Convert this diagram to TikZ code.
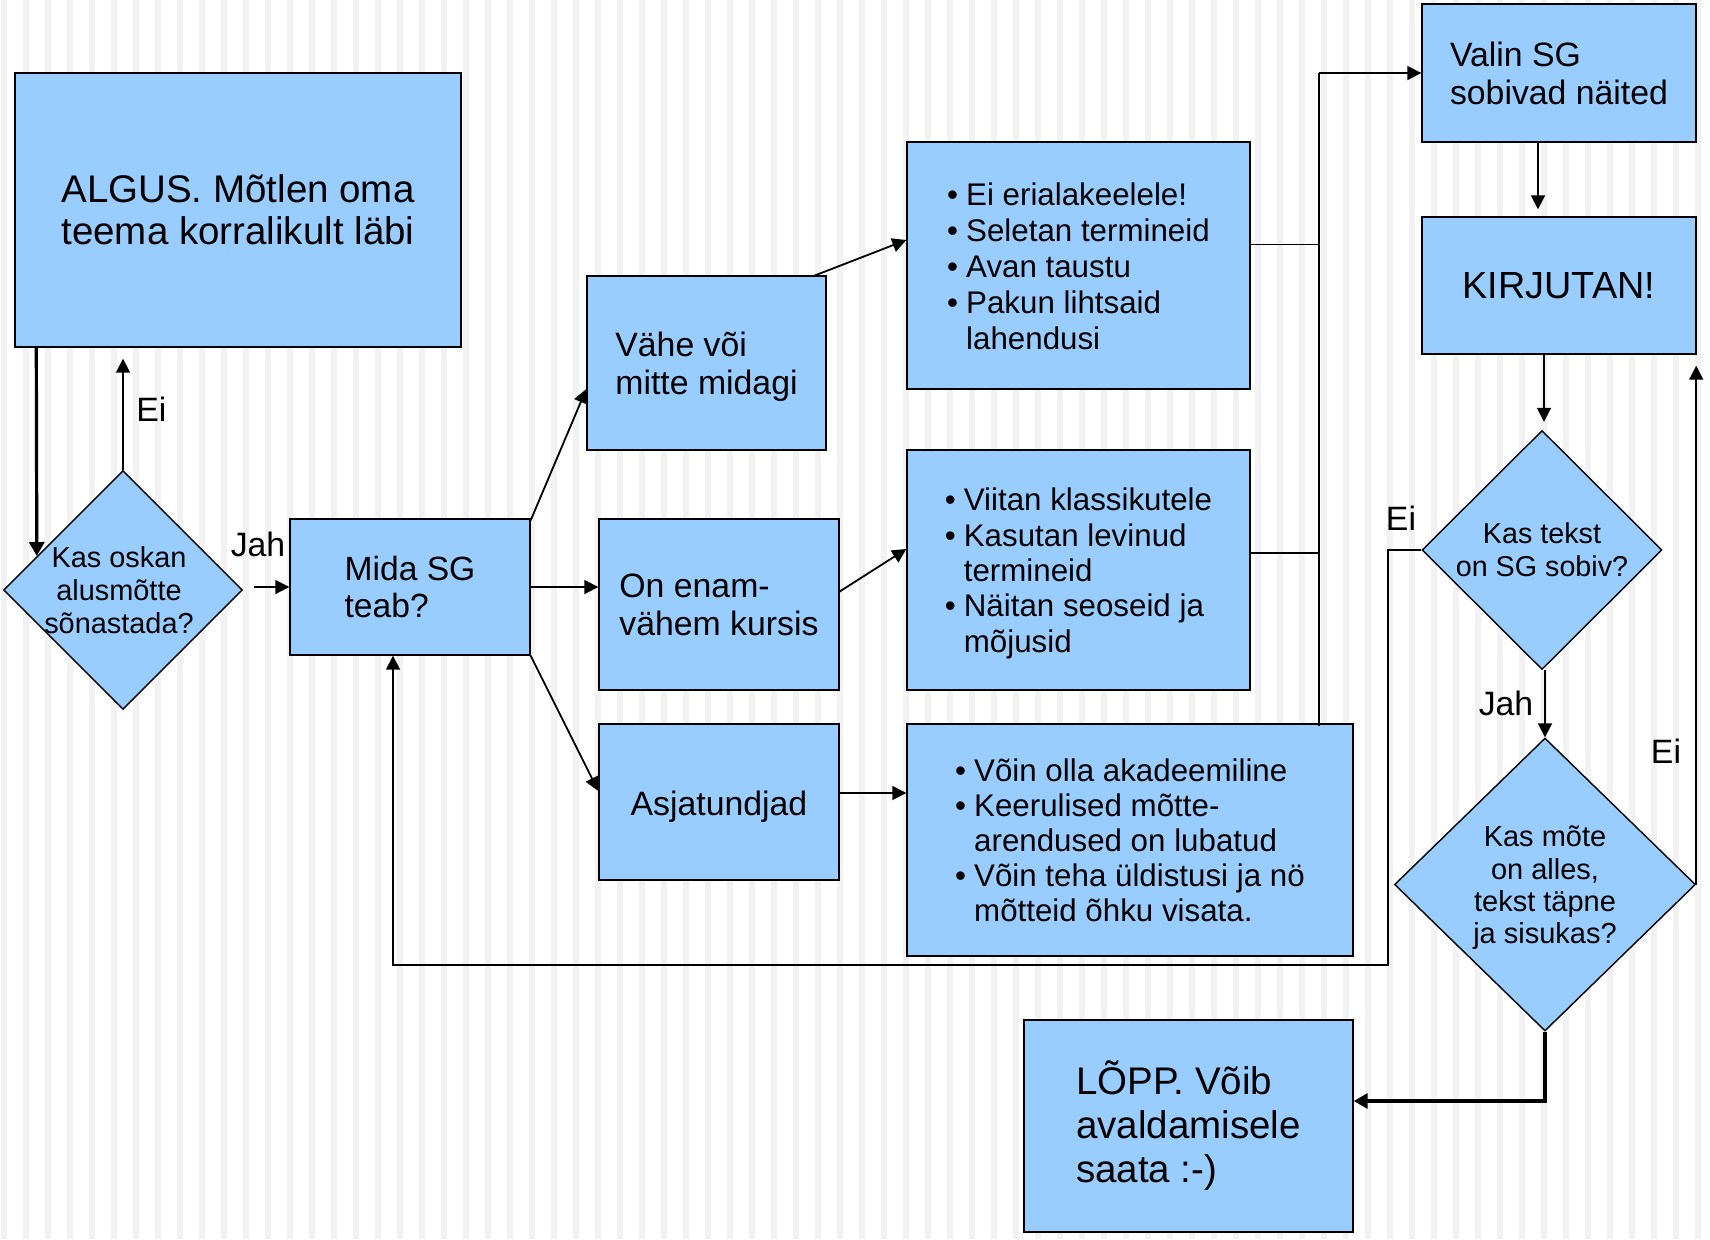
\documentclass[tikz,border=0pt]{standalone}
\usepackage{fontspec}
\setmainfont{Liberation Sans}
\usetikzlibrary{arrows.meta,shapes.geometric,calc}
\definecolor{boxblue}{RGB}{153,204,255}
\definecolor{stripegray}{RGB}{242,242,242}
\newcommand{\dropby}[2]{\raisebox{0pt}[\dimexpr\height+#1\relax][\depth]{#2}}
\begin{document}
\begin{tikzpicture}[x=0.5pt,y=-0.5pt,
  box/.style={draw=black, line width=0.7pt, fill=boxblue, rectangle, inner sep=0pt, align=left, text=black},
  dia/.style={draw=black, line width=0.7pt, fill=boxblue, diamond, inner sep=0pt},
  dtext/.style={align=center, inner sep=0pt},
  conn/.style={line width=0.9pt, -{Triangle[length=7pt,width=7pt]}},
  thinline/.style={line width=0.6pt},
  thickconn/.style={line width=1.6pt, -{Triangle[length=7pt,width=7.5pt]}},
  lbl/.style={inner sep=0pt, font=\fontsize{16.9}{19}\selectfont}
]
\useasboundingbox (0,0) rectangle (1710,1239);
\fill[white] (0,0) rectangle (1710,1239);
\foreach \i in {0,...,77} \fill[stripegray] ({1+22*\i},0) rectangle ++(6,1239);

% boxes
\node[box, minimum width=223pt, minimum height=137pt, font=\fontsize{19.25}{21}\selectfont] (algus) at (238,210) {ALGUS. Mõtlen oma\\teema korralikult läbi};
\node[dia, minimum width=119.5pt, minimum height=119.5pt] (d1) at (123,590) {};
\node[dtext, font=\fontsize{14.45}{16.35}\selectfont] (d1t) at ($(d1)+(-4,0)$) {Kas oskan\\alusmõtte\\sõnastada?};
\node[box, minimum width=120pt, minimum height=68pt, font=\fontsize{16.8}{18.5}\selectfont] (mida) at (410,587) {Mida SG\\teab?};
\node[box, minimum width=119.5pt, minimum height=87pt, font=\fontsize{16.9}{19}\selectfont] (vahe) at (706.5,363) {\dropby{4.4pt}{\begin{tabular}{@{}l@{}}Vähe või\\mitte midagi\end{tabular}}};
\node[box, minimum width=120pt, minimum height=85.5pt, font=\fontsize{16.9}{19}\selectfont] (onenam) at (719,604.5) {On enam-\\vähem kursis};
\node[box, minimum width=120pt, minimum height=78pt, font=\fontsize{16.9}{19}\selectfont] (asja) at (719,802) {\dropby{4.4pt}{Asjatundjad}};

\node[box, minimum width=171.5pt, minimum height=123.5pt, font=\fontsize{15.65}{18}\selectfont] (b1) at (1078.5,265.5)
 {\dropby{4.4pt}{\begin{tabular}{@{}l@{\hspace{4pt}}l@{}}\textbullet & Ei erialakeelele!\\ \textbullet & Seletan termineid\\ \textbullet & Avan taustu\\ \textbullet & Pakun lihtsaid\\ & lahendusi\end{tabular}}};
\node[box, minimum width=171.5pt, minimum height=120pt, font=\fontsize{15.65}{17.7}\selectfont] (b2) at (1078.5,570)
 {\dropby{4.4pt}{\begin{tabular}{@{}l@{\hspace{4pt}}l@{}}\textbullet & Viitan klassikutele\\ \textbullet & Kasutan levinud\\ & termineid\\ \textbullet & Näitan seoseid ja\\ & mõjusid\end{tabular}}};
\node[box, minimum width=223pt, minimum height=116pt, font=\fontsize{15.65}{17.6}\selectfont] (b3) at (1130,840)
 {\dropby{4.4pt}{\begin{tabular}{@{}l@{\hspace{4pt}}l@{}}\textbullet & Võin olla akadeemiline\\ \textbullet & Keerulised mõtte-\\ & arendused on lubatud\\ \textbullet & Võin teha üldistusi ja nö\\ & mõtteid õhku visata.\end{tabular}}};

\node[box, minimum width=137pt, minimum height=69pt, font=\fontsize{16.9}{19}\selectfont] (valin) at (1559,73) {Valin SG\\sobivad näited};
\node[box, minimum width=137pt, minimum height=68.5pt, font=\fontsize{18.9}{21}\selectfont] (kirj) at (1559,285.5) {KIRJUTAN!};
\node[dia, minimum width=120pt, minimum height=119.5pt] (d2) at (1542,550) {};
\node[dtext, font=\fontsize{14.35}{16.4}\selectfont] (d2t) at (d2) {Kas tekst\\on SG sobiv?};
\node[dia, minimum width=150.5pt, minimum height=146.5pt] (d3) at (1545,884.5) {};
\node[dtext, font=\fontsize{14.5}{16.2}\selectfont] (d3t) at ($(d3)+(0,3.3)$) {Kas mõte\\on alles,\\tekst täpne\\ja sisukas?};
\node[box, minimum width=164.5pt, minimum height=106pt, font=\fontsize{19.25}{22}\selectfont] (lopp) at (1188.5,1126) {LÕPP. Võib\\avaldamisele\\saata :-)};

% connectors, left part
\draw[thickconn] ($(algus.south west)+(22,0)$) -- ($(d1.west)+(34,-34)$);
\draw[conn] (d1.north) -- ($(d1.north |- algus.south)+(0,11)$);
\node[lbl, anchor=west] (ei1) at (136,409) {Ei};
\node[lbl] (jah1) at (258,544) {Jah};
\draw[conn] ($(mida.west)+(-35,0)$) -- (mida.west);
\draw[conn] ($(mida.north east)+(0,2)$) -- ($(vahe.west)+(0,26)$);
\draw[conn] (mida.east) -- (mida.east -| onenam.west);
\draw[conn] (mida.south east) -- ($(asja.west)+(0,-11)$);
\draw[conn] ($(vahe.north east)+(-14,1)$) -- ($(b1.west)+(0,-25.5)$);
\draw[conn] ($(onenam.east)+(0,-13)$) -- ($(b2.west)+(0,-21)$);
\coordinate (a3) at ($(asja.east)+(0,-9)$);
\draw[conn] (a3) -- (a3 -| b3.west);

% bus to Valin SG
\coordinate (bus) at (1319,73);
\draw[thinline] ($(b1.east)+(0,-21)$) -- ++(69,0);
\draw[thinline] ($(b2.east)+(0,-17)$) -- ++(69,0);
\draw[thinline] ($(bus |- b3.north)+(0,3)$) -- (bus);
\draw[conn] (bus) -- (valin.west);

% right column
\draw[conn] ($(valin.south)+(-21,0)$) -- ($(kirj.north)+(-21,-7)$);
\coordinate (k2) at ($(kirj.south)+(-15,0)$);
\draw[conn] (k2) -- ($(k2 |- d2.north)+(0,-8)$);

% feedback from d2 to Mida SG
\coordinate (fb) at (1388,965);
\coordinate (mup) at ($(mida.south)+(-17,0)$);
\draw[conn] (d2.west) -- (d2.west -| fb) -- (fb) -- (fb -| mup) -- (mup);
\node[lbl] (ei2) at (1401,518) {Ei};

\draw[conn] (d3.north |- d2.south) -- (d3.north);
\node[lbl] (jah2) at (1506,703) {Jah};

\draw[conn] (d3.east) -- ($(d3.east |- kirj.south east)+(0,11)$);
\node[lbl] (ei3) at (1666,751) {Ei};

\coordinate (lp) at ($(lopp.east)+(0,-25)$);
\draw[thickconn] (d3.south) -- (d3.south |- lp) -- (lp);
\end{tikzpicture}
\end{document}
